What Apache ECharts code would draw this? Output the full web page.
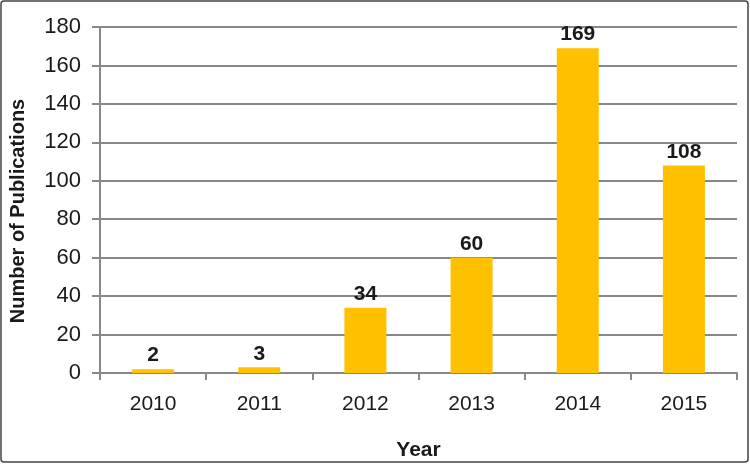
<!DOCTYPE html>
<html>
<head>
<meta charset="utf-8">
<script src="https://cdn.jsdelivr.net/npm/echarts@6/dist/echarts.min.js"></script>
<style>
html,body{margin:0;padding:0;background:#fff;}
#c{width:750px;height:464px;}
</style>
</head>
<body>
<div id="c"></div>
<script>
const years = ['2010','2011','2012','2013','2014','2015'];
const publications = [2, 3, 34, 60, 169, 108];
const yTicks = {min: 0, max: 180, interval: 20};

const chart = echarts.init(document.getElementById('c'), null, {renderer: 'canvas'});
chart.setOption({
  animation: false,
  backgroundColor: '#ffffff',
  textStyle: {fontFamily: 'Liberation Sans, Arial, sans-serif'},
  graphic: [{
    type: 'rect',
    shape: {x: 1, y: 1, width: 747, height: 461, r: 3},
    style: {fill: 'none', stroke: '#444', lineWidth: 1.5},
    silent: true
  }],
  grid: {left: 100, right: 13, top: 27, bottom: 91, containLabel: false, outerBoundsMode: 'none'},
  xAxis: {
    type: 'category',
    data: years,
    name: 'Year',
    nameLocation: 'middle',
    nameGap: 67,
    nameTextStyle: {fontSize: 21, fontWeight: 'bold', color: '#1a1a1a'},
    axisLine: {show: true, lineStyle: {color: '#888', width: 2}},
    axisTick: {show: true, length: 7, alignWithLabel: false, lineStyle: {color: '#888', width: 2}},
    axisLabel: {fontSize: 21, color: '#1a1a1a', margin: 21}
  },
  yAxis: {
    type: 'value',
    min: yTicks.min, max: yTicks.max, interval: yTicks.interval,
    name: 'Number of Publications',
    nameLocation: 'middle',
    nameGap: 72,
    nameTextStyle: {fontSize: 20, fontWeight: 'bold', color: '#1a1a1a', padding: [0, 22, 0, 0]},
    axisLine: {show: true, lineStyle: {color: '#888', width: 2}},
    axisTick: {show: true, length: 8, lineStyle: {color: '#888', width: 2}},
    axisLabel: {fontSize: 22, color: '#1a1a1a', margin: 19},
    splitLine: {show: true, lineStyle: {color: '#888', width: 2}}
  },
  series: [{
    type: 'bar',
    data: publications,
    barWidth: 42,
    itemStyle: {color: '#FFC000'},
    label: {show: true, position: 'top', distance: 3, fontSize: 21, fontWeight: 'bold', color: '#1a1a1a'}
  }]
});
</script>
</body>
</html>
